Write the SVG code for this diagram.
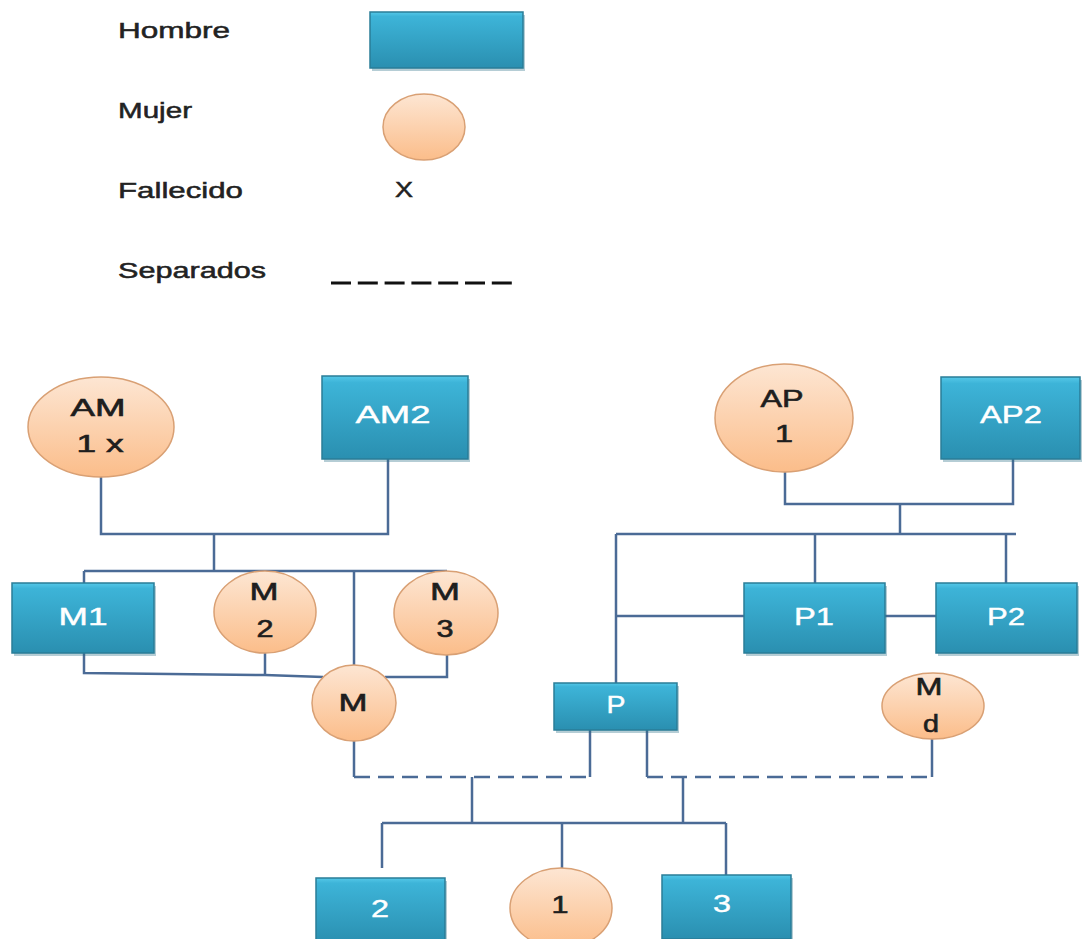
<svg xmlns="http://www.w3.org/2000/svg" width="1083" height="939" viewBox="0 0 1083 939">
<defs>
<linearGradient id="gb" x1="0" y1="0" x2="0" y2="1">
<stop offset="0" stop-color="#55c8e8"/>
<stop offset="0.08" stop-color="#3db4d8"/>
<stop offset="1" stop-color="#2a8fb0"/>
</linearGradient>
<linearGradient id="go" x1="0" y1="0" x2="0" y2="1">
<stop offset="0" stop-color="#fde6d3"/>
<stop offset="1" stop-color="#fbbd8a"/>
</linearGradient>
<style>
.h{fill:url(#gb);stroke:#2a7d98;stroke-width:1.5}
.hs{fill:#2a6f88;opacity:0.35}
.w{fill:url(#go);stroke:#d9a074;stroke-width:1.5}
.tw{font-family:"Liberation Sans",Arial,sans-serif;font-size:23px;fill:#ffffff;stroke:#ffffff;stroke-width:0.4;text-anchor:middle}
.tb{font-family:"Liberation Sans",Arial,sans-serif;font-size:23px;fill:#1e1e1e;stroke:#1e1e1e;stroke-width:0.6;text-anchor:middle}
.tl{font-family:"Liberation Sans",Arial,sans-serif;font-size:22px;fill:#222222;stroke:#222222;stroke-width:0.5}
.c{fill:none;stroke:#4b6b96;stroke-width:2.5}
.d{fill:none;stroke:#4b6b96;stroke-width:2.5;stroke-dasharray:16 8}
</style>
</defs>
<rect width="1083" height="939" fill="#ffffff"/>

<g id="legend">
<text class="tl" x="118" y="38" textLength="112" lengthAdjust="spacingAndGlyphs">Hombre</text>
<rect class="hs" x="372" y="15" width="153" height="56"/>
<rect class="h" x="370" y="12" width="153" height="56"/>
<text class="tl" x="118" y="118" textLength="74" lengthAdjust="spacingAndGlyphs">Mujer</text>
<ellipse class="w" cx="424" cy="127" rx="41" ry="33"/>
<text class="tl" x="118" y="198" textLength="125" lengthAdjust="spacingAndGlyphs">Fallecido</text>
<text class="tl" x="395" y="197" textLength="18" lengthAdjust="spacingAndGlyphs">X</text>
<text class="tl" x="118" y="278" textLength="148" lengthAdjust="spacingAndGlyphs">Separados</text>
<line x1="331" y1="283" x2="512" y2="283" stroke="#111111" stroke-width="3" stroke-dasharray="20 6.8"/>
</g>

<g id="connectors">
<polyline class="c" points="101,477 101,534 388,534 388,459"/>
<line class="c" x1="214" y1="534" x2="214" y2="571"/>
<line class="c" x1="84" y1="571" x2="447" y2="571"/>
<line class="c" x1="84" y1="571" x2="84" y2="583"/>
<line class="c" x1="354" y1="571" x2="354" y2="665"/>
<polyline class="c" points="84,653 84,673 265,675 323,677"/>
<line class="c" x1="265" y1="653" x2="265" y2="675"/>
<polyline class="c" points="447,655 447,677 385,677"/>

<polyline class="c" points="785,472 785,504 1013,504 1013,459"/>
<line class="c" x1="900" y1="504" x2="900" y2="534"/>
<line class="c" x1="616" y1="534" x2="1016" y2="534"/>
<line class="c" x1="815" y1="534" x2="815" y2="583"/>
<line class="c" x1="1006" y1="534" x2="1006" y2="583"/>
<line class="c" x1="616" y1="534" x2="616" y2="683"/>
<line class="c" x1="616" y1="616" x2="744" y2="616"/>
<line class="c" x1="885" y1="616" x2="936" y2="616"/>

<line class="c" x1="354" y1="741" x2="354" y2="777"/>
<line class="d" x1="354" y1="777" x2="590" y2="777"/>
<line class="c" x1="590" y1="730" x2="590" y2="777"/>
<line class="c" x1="647" y1="730" x2="647" y2="777"/>
<line class="d" x1="647" y1="777" x2="932" y2="777"/>
<line class="c" x1="932" y1="739" x2="932" y2="777"/>

<line class="c" x1="472" y1="777" x2="472" y2="823"/>
<line class="c" x1="683" y1="777" x2="683" y2="823"/>
<line class="c" x1="382" y1="823" x2="726" y2="823"/>
<line class="c" x1="382" y1="823" x2="382" y2="868"/>
<line class="c" x1="562" y1="823" x2="562" y2="868"/>
<line class="c" x1="726" y1="823" x2="726" y2="875"/>
</g>

<g id="AM1">
<ellipse class="w" cx="101" cy="427" rx="73" ry="50"/>
<text class="tb" x="98" y="416" textLength="55" lengthAdjust="spacingAndGlyphs">AM</text>
<text class="tb" x="100" y="452" textLength="47" lengthAdjust="spacingAndGlyphs">1 x</text>
</g>
<g id="AM2">
<rect class="hs" x="324" y="379" width="146" height="83"/>
<rect class="h" x="322" y="376" width="146" height="83"/>
<text class="tw" x="393" y="423" textLength="75" lengthAdjust="spacingAndGlyphs">AM2</text>
</g>
<g id="AP1">
<ellipse class="w" cx="784" cy="418" rx="69" ry="54"/>
<text class="tb" x="782" y="407" textLength="43" lengthAdjust="spacingAndGlyphs">AP</text>
<text class="tb" x="784" y="442" textLength="18" lengthAdjust="spacingAndGlyphs">1</text>
</g>
<g id="AP2">
<rect class="hs" x="943" y="380" width="139" height="82"/>
<rect class="h" x="941" y="377" width="139" height="82"/>
<text class="tw" x="1011" y="423" textLength="62" lengthAdjust="spacingAndGlyphs">AP2</text>
</g>
<g id="M1">
<rect class="hs" x="14" y="586" width="142" height="70"/>
<rect class="h" x="12" y="583" width="142" height="70"/>
<text class="tw" x="83" y="625" textLength="49" lengthAdjust="spacingAndGlyphs">M1</text>
</g>
<g id="M2">
<ellipse class="w" cx="265" cy="612" rx="51" ry="41"/>
<text class="tb" x="264" y="600" textLength="29" lengthAdjust="spacingAndGlyphs">M</text>
<text class="tb" x="265" y="637" textLength="17" lengthAdjust="spacingAndGlyphs">2</text>
</g>
<g id="M3">
<ellipse class="w" cx="446" cy="613" rx="52" ry="42"/>
<text class="tb" x="445" y="600" textLength="30" lengthAdjust="spacingAndGlyphs">M</text>
<text class="tb" x="445" y="637" textLength="17" lengthAdjust="spacingAndGlyphs">3</text>
</g>
<g id="P1">
<rect class="hs" x="746" y="586" width="141" height="70"/>
<rect class="h" x="744" y="583" width="141" height="70"/>
<text class="tw" x="814" y="625" textLength="40" lengthAdjust="spacingAndGlyphs">P1</text>
</g>
<g id="P2">
<rect class="hs" x="938" y="586" width="141" height="70"/>
<rect class="h" x="936" y="583" width="141" height="70"/>
<text class="tw" x="1006" y="625" textLength="38" lengthAdjust="spacingAndGlyphs">P2</text>
</g>
<g id="M">
<ellipse class="w" cx="354" cy="703" rx="42" ry="38"/>
<text class="tb" x="353" y="711" textLength="29" lengthAdjust="spacingAndGlyphs">M</text>
</g>
<g id="P">
<rect class="hs" x="556" y="686" width="123" height="47"/>
<rect class="h" x="554" y="683" width="123" height="47"/>
<text class="tw" x="616" y="713" textLength="19" lengthAdjust="spacingAndGlyphs">P</text>
</g>
<g id="Md">
<ellipse class="w" cx="933" cy="706" rx="51" ry="33"/>
<text class="tb" x="929" y="695" textLength="27" lengthAdjust="spacingAndGlyphs">M</text>
<text class="tb" x="931" y="732" textLength="16" lengthAdjust="spacingAndGlyphs">d</text>
</g>
<g id="H2">
<rect class="hs" x="318" y="881" width="129" height="65"/>
<rect class="h" x="316" y="878" width="129" height="65"/>
<text class="tw" x="380" y="917" textLength="18" lengthAdjust="spacingAndGlyphs">2</text>
</g>
<g id="H1">
<ellipse class="w" cx="561" cy="908" rx="51" ry="40"/>
<text class="tb" x="560" y="913" textLength="17" lengthAdjust="spacingAndGlyphs">1</text>
</g>
<g id="H3">
<rect class="hs" x="664" y="878" width="129" height="64"/>
<rect class="h" x="662" y="875" width="129" height="64"/>
<text class="tw" x="722" y="912" textLength="18" lengthAdjust="spacingAndGlyphs">3</text>
</g>
</svg>
